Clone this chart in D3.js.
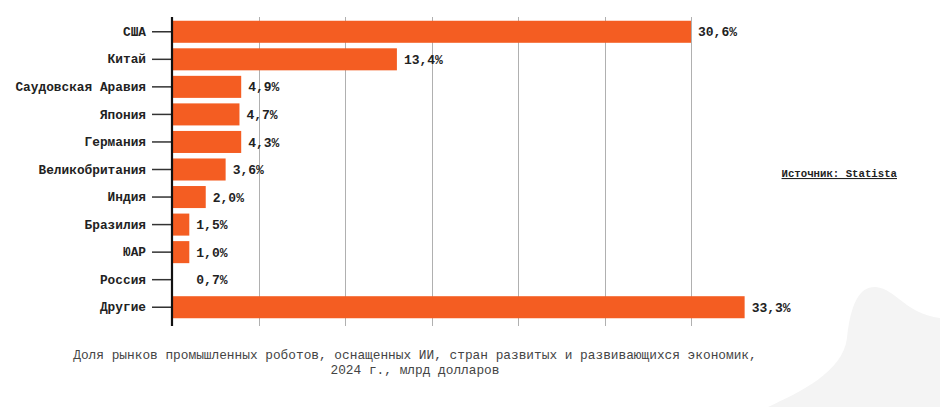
<!DOCTYPE html>
<html>
<head>
<meta charset="utf-8">
<script src="https://cdn.jsdelivr.net/npm/d3@7"></script>
<style>
  html, body { margin: 0; padding: 0; background: #ffffff; }
  svg { display: block; }
</style>
</head>
<body>
<div id="chart"></div>
<script>
// ---- data ----
const categories = ["США", "Китай", "Саудовская Аравия", "Япония", "Германия", "Великобритания", "Индия", "Бразилия", "ЮАР", "Россия", "Другие"];
// bar lengths as drawn in the picture (axis units, gridline every 5)
const barValues = [30.0, 13.0, 4.0, 3.9, 4.0, 3.1, 1.95, 1.0, 1.0, 0, 33.1];
// share labels printed next to bars (%)
const shares = [30.6, 13.4, 4.9, 4.7, 4.3, 3.6, 2.0, 1.5, 1.0, 0.7, 33.3];
const xDomain = [0, 30];
const captionLines = [
  "Доля рынков промышленных роботов, оснащенных ИИ, стран развитых и развивающихся экономик,",
  "2024 г., млрд долларов"
];
const sourceText = "Источник: Statista";

// ---- drawing ----
const W = 940, H = 407;
const FONT = "'Liberation Mono', 'DejaVu Sans Mono', monospace";
const svg = d3.select("#chart").append("svg").attr("width", W).attr("height", H);

// background blob
svg.append("path")
  .attr("d", "M 768 407 C 800 392, 843 372, 847 338 C 851 302, 860 286, 876 287 C 896 289, 906 314, 940 318 L 940 407 Z")
  .attr("fill", "#f4f4f4");

const x = d3.scaleLinear().domain(xDomain).range([172, 691]);
const y = d3.scaleBand().domain(categories).range([18, 321]).paddingInner(0.2).paddingOuter(0.1);

// gridlines
svg.append("g").selectAll("line")
  .data(x.ticks(6).filter(d => d > 0))
  .join("line")
  .attr("x1", d => Math.round(x(d)) + 0.5).attr("x2", d => Math.round(x(d)) + 0.5)
  .attr("y1", 17).attr("y2", 326)
  .attr("stroke", "#b0b0b0").attr("stroke-width", 1);

// bars
const rows = categories.map((c, i) => ({ c, v: barValues[i], s: shares[i] }));
svg.append("g").selectAll("rect")
  .data(rows)
  .join("rect")
  .attr("x", x(0) + 1)
  .attr("y", d => y(d.c))
  .attr("width", d => Math.max(0, x(d.v) - x(0) - 1))
  .attr("height", y.bandwidth())
  .attr("fill", "#f45d22");

// value labels
const fmt = v => v.toFixed(1).replace(".", ",") + "%";
svg.append("g").selectAll("text")
  .data(rows)
  .join("text")
  .attr("x", d => x(Math.max(d.v, 1.0)) + 7)
  .attr("y", d => y(d.c) + y.bandwidth() / 2)
  .attr("dy", "0.35em")
  .attr("font-family", FONT)
  .attr("font-size", "13px")
  .attr("font-weight", "bold")
  .attr("fill", "#222")
  .text(d => fmt(d.s));

// y axis
const yAxis = d3.axisLeft(y).tickSize(20).tickPadding(6).tickSizeOuter(0);
const gy = svg.append("g").attr("transform", "translate(172,0)").call(yAxis);
gy.select(".domain").remove();
gy.selectAll(".tick line").attr("stroke", "#333").attr("stroke-width", 1.5);
gy.selectAll(".tick text")
  .attr("font-family", FONT)
  .attr("font-size", "12.8px")
  .attr("font-weight", "bold")
  .attr("fill", "#222");

// axis line
svg.append("line")
  .attr("x1", 172).attr("x2", 172).attr("y1", 17).attr("y2", 326)
  .attr("stroke", "#111").attr("stroke-width", 2.2);

// source
svg.append("text")
  .attr("x", 897).attr("y", 177)
  .attr("text-anchor", "end")
  .attr("font-family", FONT)
  .attr("font-size", "10.7px")
  .attr("font-weight", "bold")
  .attr("fill", "#222")
  .attr("text-decoration", "underline")
  .text(sourceText);

// caption
svg.append("g").selectAll("text")
  .data(captionLines)
  .join("text")
  .attr("x", 415)
  .attr("y", (d, i) => 359 + i * 15)
  .attr("text-anchor", "middle")
  .attr("font-family", FONT)
  .attr("font-size", "12.8px")
  .attr("fill", "#444")
  .text(d => d);
</script>
</body>
</html>
